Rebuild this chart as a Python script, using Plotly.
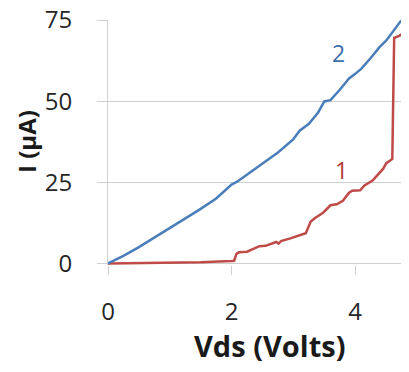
import plotly.graph_objects as go

# Curva 2 (azul)
V_2 = [0.0, 0.25, 0.5, 0.75, 1.0, 1.25, 1.5, 1.75, 2.0, 2.1, 2.25, 2.5, 2.75, 3.0,
       3.1, 3.25, 3.4, 3.5, 3.6, 3.75, 3.9, 4.0, 4.1, 4.25, 4.4, 4.5, 4.6, 4.75, 4.87]
I_2 = [0.0, 2.3, 5.0, 7.9, 11.0, 13.9, 16.8, 20.0, 24.3, 25.3, 27.4, 30.8, 34.2, 38.3,
       40.9, 43.0, 46.5, 49.9, 50.3, 53.5, 57.0, 58.4, 60.0, 63.3, 66.8, 68.6, 71.2, 75.0, 77.5]

# Curva 1 (roja)
V_1 = [0.0, 0.5, 1.0, 1.5, 2.0, 2.04, 2.08, 2.12, 2.25, 2.35, 2.45, 2.55, 2.65, 2.72,
       2.76, 2.8, 2.95, 3.1, 3.2, 3.28, 3.35, 3.48, 3.6, 3.7, 3.8, 3.9, 3.95, 4.08,
       4.15, 4.28, 4.35, 4.45, 4.5, 4.6, 4.63, 4.72, 4.78, 4.82, 4.87]
I_1 = [0.0, 0.05, 0.15, 0.35, 0.7, 0.8, 3.0, 3.4, 3.6, 4.4, 5.3, 5.4, 6.2, 6.6,
       6.1, 6.9, 7.7, 8.6, 9.3, 12.9, 14.0, 15.6, 17.9, 18.2, 19.3, 21.8, 22.4, 22.5,
       24.0, 25.5, 27.0, 29.1, 30.8, 32.2, 69.5, 70.2, 71.0, 72.5, 74.0]

X_TICKS = [0, 2, 4]
Y_TICKS = [0, 25, 50, 75]

AZUL = "#4a7ebb"
ROJO = "#be4b48"
GRIS = "#d0d0d0"


def main():
    fig = go.Figure()

    fig.add_trace(go.Scatter(x=V_1, y=I_1, mode="lines",
                             line=dict(color=ROJO, width=2.5)))
    fig.add_trace(go.Scatter(x=V_2, y=I_2, mode="lines",
                             line=dict(color=AZUL, width=2.5)))

    fig.update_xaxes(
        range=[0, 4.87],
        tickvals=X_TICKS,
        ticks="outside",
        ticklen=9,
        tickwidth=1,
        tickcolor=GRIS,
        ticklabelstandoff=16,
        ticklabeloverflow="allow",
        showgrid=False,
        zeroline=False,
        showline=False,
        automargin=False,
        tickfont=dict(size=24, color="#262626"),
    )

    fig.update_yaxes(
        range=[-0.5, 75],
        tickvals=Y_TICKS,
        ticks="outside",
        ticklen=10,
        tickcolor=GRIS,
        ticklabelstandoff=20,
        ticklabeloverflow="allow",
        showgrid=True,
        gridcolor=GRIS,
        gridwidth=1,
        zeroline=False,
        showline=True,
        linecolor=GRIS,
        linewidth=1,
        automargin=False,
        tickfont=dict(size=24, color="#262626"),
    )

    # La página tiene un margen de 8 px, así que la figura es 8 px más pequeña.
    fig.update_layout(
        width=401,
        height=364,
        showlegend=False,
        font_family="Open Sans",
        plot_bgcolor="white",
        paper_bgcolor="white",
        margin=dict(l=100, r=0, t=12, b=107),
        annotations=[
            dict(x=3.73, y=64.8, xref="x", yref="y", text="2", showarrow=False,
                 font=dict(size=23, color="#3f6fa8")),
            dict(x=3.77, y=28.7, xref="x", yref="y", text="1", showarrow=False,
                 font=dict(size=23, color="#b03a36")),
            dict(x=0.535, y=-0.33, xref="paper", yref="paper", text="<b>Vds (Volts)</b>",
                 showarrow=False, xanchor="center", yanchor="middle",
                 font=dict(size=29, color="#1a1a1a")),
            dict(x=-0.27, y=0.505, xref="paper", yref="paper", text="<b>I (μA)</b>",
                 showarrow=False, xanchor="center", yanchor="middle", textangle=-90,
                 font=dict(size=24, color="#1a1a1a")),
        ],
    )

    fig.write_html("out.html")


if __name__ == "__main__":
    main()
